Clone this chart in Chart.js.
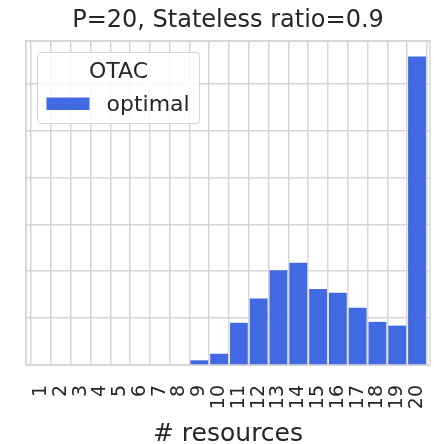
<!DOCTYPE html>
<html>
<head>
<meta charset="utf-8">
<script src="https://cdn.jsdelivr.net/npm/chart.js@4.4.1/dist/chart.umd.min.js"></script>
<style>
  html, body { margin: 0; padding: 0; background: #ffffff; }
  #wrap { width: 434px; height: 444px; }
</style>
</head>
<body>
<div id="wrap"><canvas id="chart" width="434" height="444"></canvas></div>
<script>
// Number of resources (x categories)
const resources = [1, 2, 3, 4, 5, 6, 7, 8, 9, 10, 11, 12, 13, 14, 15, 16, 17, 18, 19, 20];
// Labels printed under each category
const tickLabels = ['1', '2', '3', '4', '5', '6', '7', '8', '9', '10',
                    '11', '12', '13', '14', '15', '16', '17', '18', '19', '20'];
// Counts of runs where the optimal allocation used that many resources
const optimalCounts = [0, 0, 0, 0, 0, 0, 0, 0, 5, 12, 45, 71, 101, 109, 81, 77, 61, 46, 42, 329];

const chartTitle = 'P=20, Stateless ratio=0.9';
const legendTitle = 'OTAC';
const seriesName = 'optimal';
const xAxisTitle = '# resources';

const FONT = "'DejaVu Sans', 'Liberation Sans', sans-serif";
const TEXT = '#262626';
const GRID = '#d6d6d6';
const BAR = '#4169e1';

// Top/right frame of the plot and the boxed legend inside the plot
const framePlugin = {
  id: 'frameAndLegend',
  beforeDatasetsDraw(chart) {
    const { ctx, chartArea: a } = chart;
    ctx.save();
    ctx.strokeStyle = GRID;
    ctx.lineWidth = 1.5;
    ctx.strokeRect(a.left, a.top, a.right - a.left, a.bottom - a.top);
    ctx.restore();
  },
  afterDatasetsDraw(chart) {
    const { ctx, chartArea: a } = chart;
    const ds = chart.data.datasets[0];
    const bx = a.left + 11.5, by = a.top + 11.5, bw = 162, bh = 71;
    ctx.save();
    ctx.beginPath();
    ctx.roundRect(bx, by, bw, bh, 4);
    ctx.fillStyle = 'rgba(255,255,255,0.85)';
    ctx.fill();
    ctx.strokeStyle = '#d4d4d4';
    ctx.lineWidth = 1;
    ctx.stroke();

    ctx.fillStyle = TEXT;
    ctx.font = '22px ' + FONT;
    ctx.textAlign = 'center';
    ctx.textBaseline = 'alphabetic';
    ctx.fillText(legendTitle, bx + bw / 2, by + 25.5);

    ctx.fillStyle = ds.backgroundColor;
    ctx.fillRect(bx + 9, by + 45, 43, 12.5);

    ctx.fillStyle = TEXT;
    ctx.textAlign = 'left';
    ctx.fillText(ds.label, bx + 69, by + 58);
    ctx.restore();
  }
};

new Chart(document.getElementById('chart'), {
  type: 'bar',
  data: {
    datasets: [{
      label: seriesName,
      data: resources.map((r, i) => ({ x: r, y: optimalCounts[i] })),
      backgroundColor: BAR,
      borderWidth: 0,
      barPercentage: 0.9,
      categoryPercentage: 1.0
    }]
  },
  options: {
    responsive: false,
    animation: false,
    devicePixelRatio: 1,
    layout: { padding: { left: 26, right: 4, top: 0, bottom: 0 } },
    plugins: {
      legend: { display: false },
      tooltip: { enabled: false },
      title: {
        display: true,
        text: chartTitle,
        color: TEXT,
        font: { family: FONT, size: 24, weight: 'normal', lineHeight: 1.2 },
        padding: { top: 6, bottom: 6.2 }
      }
    },
    scales: {
      x: {
        type: 'linear',
        min: 0.243,
        max: 20.656,
        offset: false,
        grid: { color: GRID, lineWidth: 1.5, drawTicks: false },
        border: { display: true, color: GRID, width: 1.5 },
        ticks: {
          stepSize: 1,
          includeBounds: false,
          autoSkip: false,
          maxRotation: 90,
          minRotation: 90,
          padding: 20,
          color: TEXT,
          font: { family: FONT, size: 19 },
          callback: (v) => {
            const i = resources.indexOf(v);
            return i >= 0 ? tickLabels[i] : '';
          }
        },
        title: {
          display: true,
          text: xAxisTitle,
          color: TEXT,
          font: { family: FONT, size: 25, lineHeight: 0.8 },
          padding: { top: 0, bottom: 0 }
        },
        afterFit: (scale) => {
          scale.height = 79;
          scale.paddingLeft = 0;
          scale.paddingRight = 0;
        }
      },
      y: {
        min: 0,
        max: 329 * 1.05,
        grid: { color: GRID, lineWidth: 1.5, drawTicks: false },
        border: { display: true, color: GRID, width: 1.5 },
        ticks: { display: false, stepSize: 50 },
        afterFit: (scale) => {
          scale.width = 0;
          scale.paddingTop = 0;
          scale.paddingBottom = 0;
        }
      }
    }
  },
  plugins: [framePlugin]
});
</script>
</body>
</html>
